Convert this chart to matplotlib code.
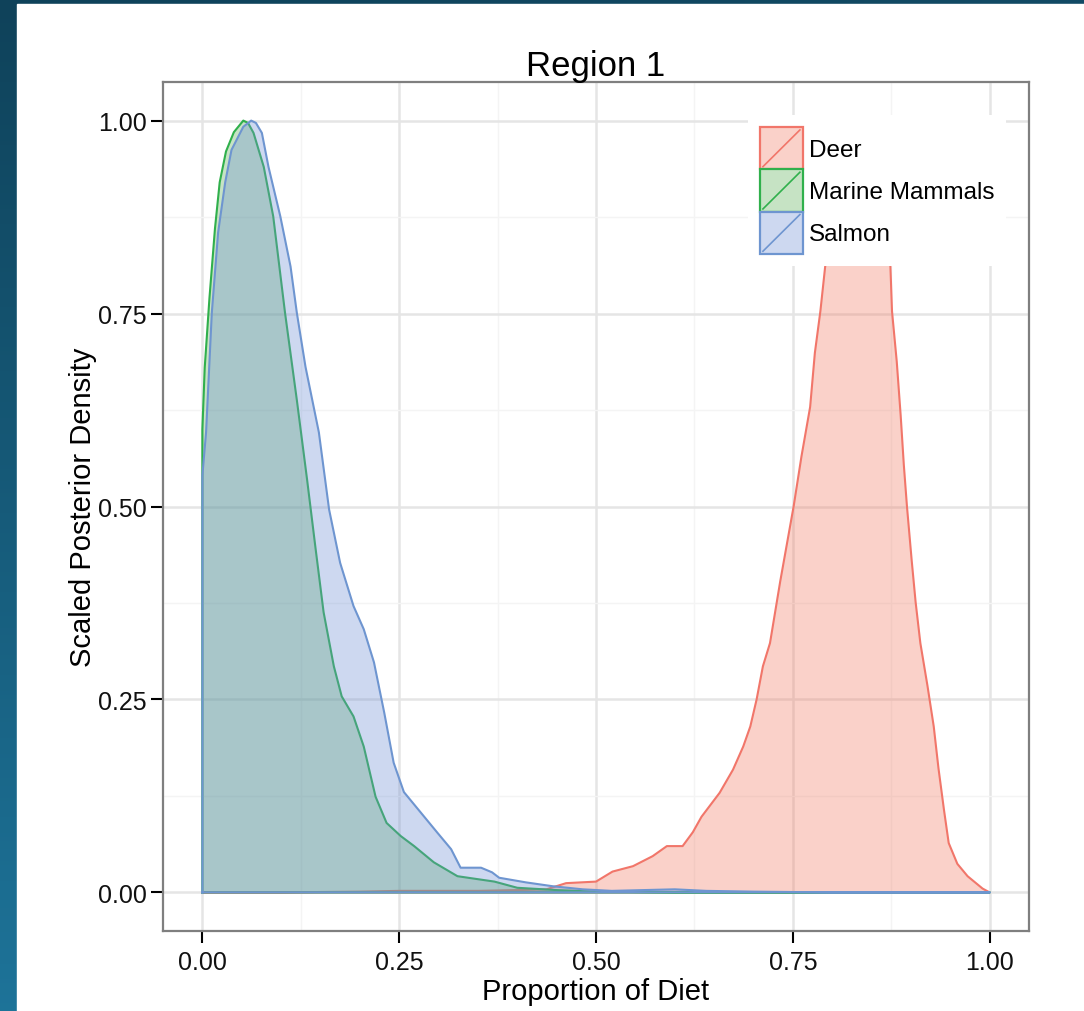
import numpy as np
import matplotlib
matplotlib.use("Agg")
import matplotlib.pyplot as plt
from matplotlib.patches import Rectangle
from matplotlib.lines import Line2D
from matplotlib.legend_handler import HandlerBase

plt.rcParams['font.family'] = ['Liberation Sans', 'DejaVu Sans']

# ---------------- data ----------------
series_names = ["Deer", "Marine Mammals", "Salmon"]

deer_x = [0, 0.10, 0.20, 0.25, 0.30, 0.35, 0.40, 0.437, 0.462, 0.500, 0.521, 0.547,
          0.572, 0.590, 0.610, 0.623, 0.634, 0.657, 0.674, 0.687, 0.696, 0.704, 0.712,
          0.721, 0.734, 0.751, 0.761, 0.772, 0.778, 0.785, 0.791, 0.800, 0.815, 0.830,
          0.845, 0.860, 0.868, 0.874, 0.876, 0.882, 0.887, 0.891, 0.895, 0.901, 0.906,
          0.912, 0.921, 0.929, 0.935, 0.942, 0.948, 0.959, 0.972, 0.991, 1.0]
deer_y = [0, 0, 0.001, 0.002, 0.002, 0.002, 0.003, 0.004, 0.012, 0.014, 0.027, 0.034,
          0.047, 0.060, 0.060, 0.078, 0.098, 0.129, 0.159, 0.189, 0.215, 0.250, 0.293,
          0.323, 0.403, 0.500, 0.565, 0.629, 0.699, 0.753, 0.810, 0.880, 0.960, 0.995,
          1.000, 0.970, 0.900, 0.810, 0.753, 0.688, 0.618, 0.554, 0.500, 0.430, 0.376,
          0.323, 0.268, 0.215, 0.161, 0.107, 0.064, 0.037, 0.021, 0.005, 0]

marine_x = [0, 0.003, 0.009, 0.016, 0.022, 0.030, 0.040, 0.052, 0.058, 0.065, 0.078,
            0.090, 0.105, 0.120, 0.133, 0.1435, 0.154, 0.167, 0.177, 0.192, 0.205, 0.220,
            0.234, 0.252, 0.269, 0.294, 0.324, 0.371, 0.40, 0.45, 0.50, 0.60, 0.70, 0.80,
            0.90, 1.0]
marine_y = [0.60, 0.68, 0.77, 0.86, 0.92, 0.96, 0.985, 1.0, 0.997, 0.984, 0.940,
            0.876, 0.751, 0.638, 0.535, 0.448, 0.363, 0.293, 0.254, 0.228, 0.189, 0.124,
            0.090, 0.073, 0.060, 0.039, 0.021, 0.014, 0.006, 0.003, 0.001, 0, 0, 0,
            0, 0]

salmon_x = [0, 0.0047, 0.012, 0.020, 0.029, 0.037, 0.052, 0.062, 0.068, 0.0756, 0.084,
            0.099, 0.112, 0.120, 0.131, 0.148, 0.161, 0.175, 0.192, 0.205, 0.218, 0.231,
            0.243, 0.256, 0.277, 0.298, 0.316, 0.328, 0.354, 0.368, 0.377, 0.411, 0.445,
            0.483, 0.52, 0.56, 0.60, 0.64, 0.70, 0.80, 0.90, 1.0]
salmon_y = [0.54, 0.596, 0.751, 0.855, 0.920, 0.962, 0.992, 1.0, 0.997, 0.984, 0.940,
            0.876, 0.811, 0.751, 0.681, 0.596, 0.496, 0.427, 0.371, 0.341, 0.298, 0.233,
            0.168, 0.130, 0.104, 0.078, 0.056, 0.032, 0.032, 0.026, 0.019, 0.013, 0.008,
            0.004, 0.002, 0.003, 0.004, 0.002, 0.001, 0, 0, 0]

x_ticks = [0.00, 0.25, 0.50, 0.75, 1.00]
x_tick_labels = ["0.00", "0.25", "0.50", "0.75", "1.00"]
y_ticks = [0.00, 0.25, 0.50, 0.75, 1.00]
y_tick_labels = ["0.00", "0.25", "0.50", "0.75", "1.00"]

line_colors = ["#F1766A", "#30B04C", "#6E95D0"]
fill_base = ["#F17C65", "#5CAF56", "#7090D4"]
fill_alpha = 0.35

# ---------------- figure ----------------
W, H = 1084, 1012
fig = plt.figure(figsize=(W / 100, H / 100), dpi=100)

bg = fig.add_axes([0, 0, 1, 1], zorder=-10)
gy = np.linspace(0, 1, 256)[:, None]
gx = np.linspace(0, 1, 64)[None, :]
t = np.clip(gy * 0.85 + gx * 0.15, 0, 1)
top = np.array([15, 66, 90]) / 255.0
bot = np.array([32, 124, 164]) / 255.0
img = top[None, None, :] * (1 - t[..., None]) + bot[None, None, :] * t[..., None]
bg.imshow(img, extent=[0, 1, 0, 1], aspect='auto', origin='upper')
bg.add_patch(Rectangle((17 / W, 0), 1 - 17 / W, 1 - 5 / H, color='white', zorder=2))
bg.set_xlim(0, 1)
bg.set_ylim(0, 1)
bg.axis('off')

ax = fig.add_axes([163 / W, 1 - 932 / H, 866 / W, 849 / H])
ax.set_facecolor('white')

xs = [deer_x, marine_x, salmon_x]
ys = [deer_y, marine_y, salmon_y]
for i, name in enumerate(series_names):
    x = np.array(xs[i])
    y = np.array(ys[i])
    ax.fill_between(x, 0, y, facecolor=fill_base[i], alpha=fill_alpha, lw=0, zorder=2 + i)
    ox = np.r_[x[0], x, x[-1], x[0]]
    oy = np.r_[0, y, 0, 0]
    ax.plot(ox, oy, color=line_colors[i], lw=1.5, zorder=2 + i, solid_joinstyle='round')

ax.set_xlim(-0.05, 1.05)
ax.set_ylim(-0.05, 1.05)
ax.set_xticks(x_ticks)
ax.set_xticklabels(x_tick_labels)
ax.set_yticks(y_ticks)
ax.set_yticklabels(y_tick_labels)
ax.set_xticks([0.125, 0.375, 0.625, 0.875], minor=True)
ax.set_yticks([0.125, 0.375, 0.625, 0.875], minor=True)
ax.grid(which='major', color='#E5E5E5', lw=1.8, zorder=0)
ax.grid(which='minor', color='#F4F4F4', lw=1.0, zorder=0)
ax.set_axisbelow(True)
ax.tick_params(which='major', length=8.5, width=1.5, color='black', labelsize=18,
               labelcolor='#111111', pad=3)
ax.tick_params(axis='x', which='major', pad=5)
ax.tick_params(which='minor', length=0)
for s in ax.spines.values():
    s.set_color('#7F7F7F')
    s.set_linewidth(1.6)

ax.set_title("Region 1", fontsize=25, pad=5, color='black')
ax.set_xlabel("Proportion of Diet", fontsize=21, labelpad=2)
ax.set_ylabel("Scaled Posterior Density", fontsize=21, labelpad=1)


class DiagKey(HandlerBase):
    def __init__(self, fc, ec):
        super().__init__()
        self.fc = fc
        self.ec = ec

    def create_artists(self, legend, orig_handle, xdescent, ydescent, width, height,
                       fontsize, trans):
        r = Rectangle((-xdescent, -ydescent), width, height, facecolor=self.fc,
                      alpha=None, edgecolor=self.ec, lw=1.6, transform=trans)
        ln = Line2D([-xdescent + 2, -xdescent + width - 2],
                    [-ydescent + 2, -ydescent + height - 2],
                    color=self.ec, lw=1.2, transform=trans)
        return [r, ln]


def blend(c, a):
    c = np.array(matplotlib.colors.to_rgb(c))
    return tuple(1 - a + a * c)


handles = [Rectangle((0, 0), 1, 1) for _ in series_names]
hmap = {h: DiagKey(blend(fill_base[i], fill_alpha), line_colors[i])
        for i, h in enumerate(handles)}
leg = ax.legend(handles, series_names, handler_map=hmap, loc='upper left',
                bbox_to_anchor=((748 - 163) / 866, 1 - (116 - 83) / 849),
                borderaxespad=0, fontsize=17.5, handlelength=1.75, handleheight=2.3,
                labelspacing=0.0, handletextpad=0.25, borderpad=0.5,
                frameon=True, fancybox=False)
leg.get_frame().set_facecolor('white')
leg.get_frame().set_edgecolor('none')
leg.get_frame().set_alpha(1.0)
leg.set_zorder(10)

fig.savefig("out.png", dpi=100)
